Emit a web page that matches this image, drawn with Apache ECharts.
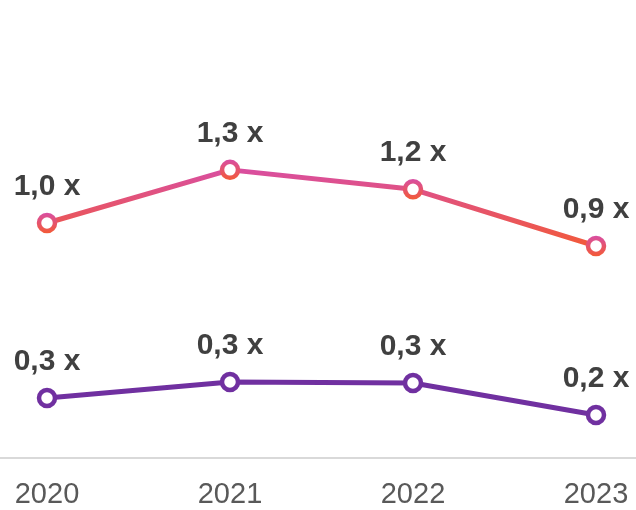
<!DOCTYPE html>
<html>
<head>
<meta charset="utf-8">
<script src="https://cdn.jsdelivr.net/npm/echarts@6/dist/echarts.min.js"></script>
<style>
html,body{margin:0;padding:0;background:#fff;}
#c{width:636px;height:510px;}
</style>
</head>
<body>
<div id="c"></div>
<script>
var years = ['2020', '2021', '2022', '2023'];
var upperSeries = [1.0, 1.3, 1.19, 0.87];
var lowerSeries = [0.26, 0.34, 0.335, 0.175];

var FONT = '"Liberation Sans", Arial, sans-serif';
function fmt(p) { return p.value.toFixed(1).replace('.', ',') + ' x'; }
var grad = function () {
  return new echarts.graphic.LinearGradient(0, 0, 0, 1, [
    { offset: 0, color: '#d84ea3' },
    { offset: 1, color: '#f35a36' }
  ]);
};
var labelStyle = {
  show: true, position: 'top', distance: 11, formatter: fmt,
  fontFamily: FONT, fontSize: 30, fontWeight: 'bold', color: '#404040'
};

var chart = echarts.init(document.getElementById('c'), null, { renderer: 'canvas' });
chart.setOption({
  backgroundColor: '#ffffff',
  animation: false,
  grid: [
    { left: 47, right: 40, top: 58, bottom: 52, containLabel: false },
    { left: 0, right: 0, top: 58, bottom: 52, containLabel: false }
  ],
  xAxis: [
    {
      type: 'category', data: years, boundaryGap: false, gridIndex: 0,
      axisLine: { show: false }, axisTick: { show: false },
      axisLabel: { color: '#595959', fontSize: 29, fontFamily: FONT, margin: 22 }
    },
    {
      type: 'value', gridIndex: 1, min: 0, max: 1,
      axisLine: { show: true, lineStyle: { color: '#d9d9d9', width: 2 } },
      axisTick: { show: false }, axisLabel: { show: false }, splitLine: { show: false }
    }
  ],
  yAxis: [
    { type: 'value', gridIndex: 0, min: -0.3277, max: 1.932, show: false, splitLine: { show: false } },
    { type: 'value', gridIndex: 0, min: -0.04, max: 1.96, show: false, splitLine: { show: false } },
    { type: 'value', gridIndex: 1, show: false, splitLine: { show: false } }
  ],
  series: [
    {
      type: 'line', data: upperSeries, xAxisIndex: 0, yAxisIndex: 0,
      symbol: 'circle', symbolSize: 16, showAllSymbol: true,
      lineStyle: { width: 5, color: grad() },
      itemStyle: { color: '#ffffff', borderColor: grad(), borderWidth: 4.5 },
      label: labelStyle, z: 3
    },
    {
      type: 'line', data: lowerSeries, xAxisIndex: 0, yAxisIndex: 1,
      symbol: 'circle', symbolSize: 16, showAllSymbol: true,
      lineStyle: { width: 5, color: '#7030a0' },
      itemStyle: { color: '#ffffff', borderColor: '#7030a0', borderWidth: 4.5 },
      label: labelStyle, z: 3
    }
  ]
});
</script>
</body>
</html>
